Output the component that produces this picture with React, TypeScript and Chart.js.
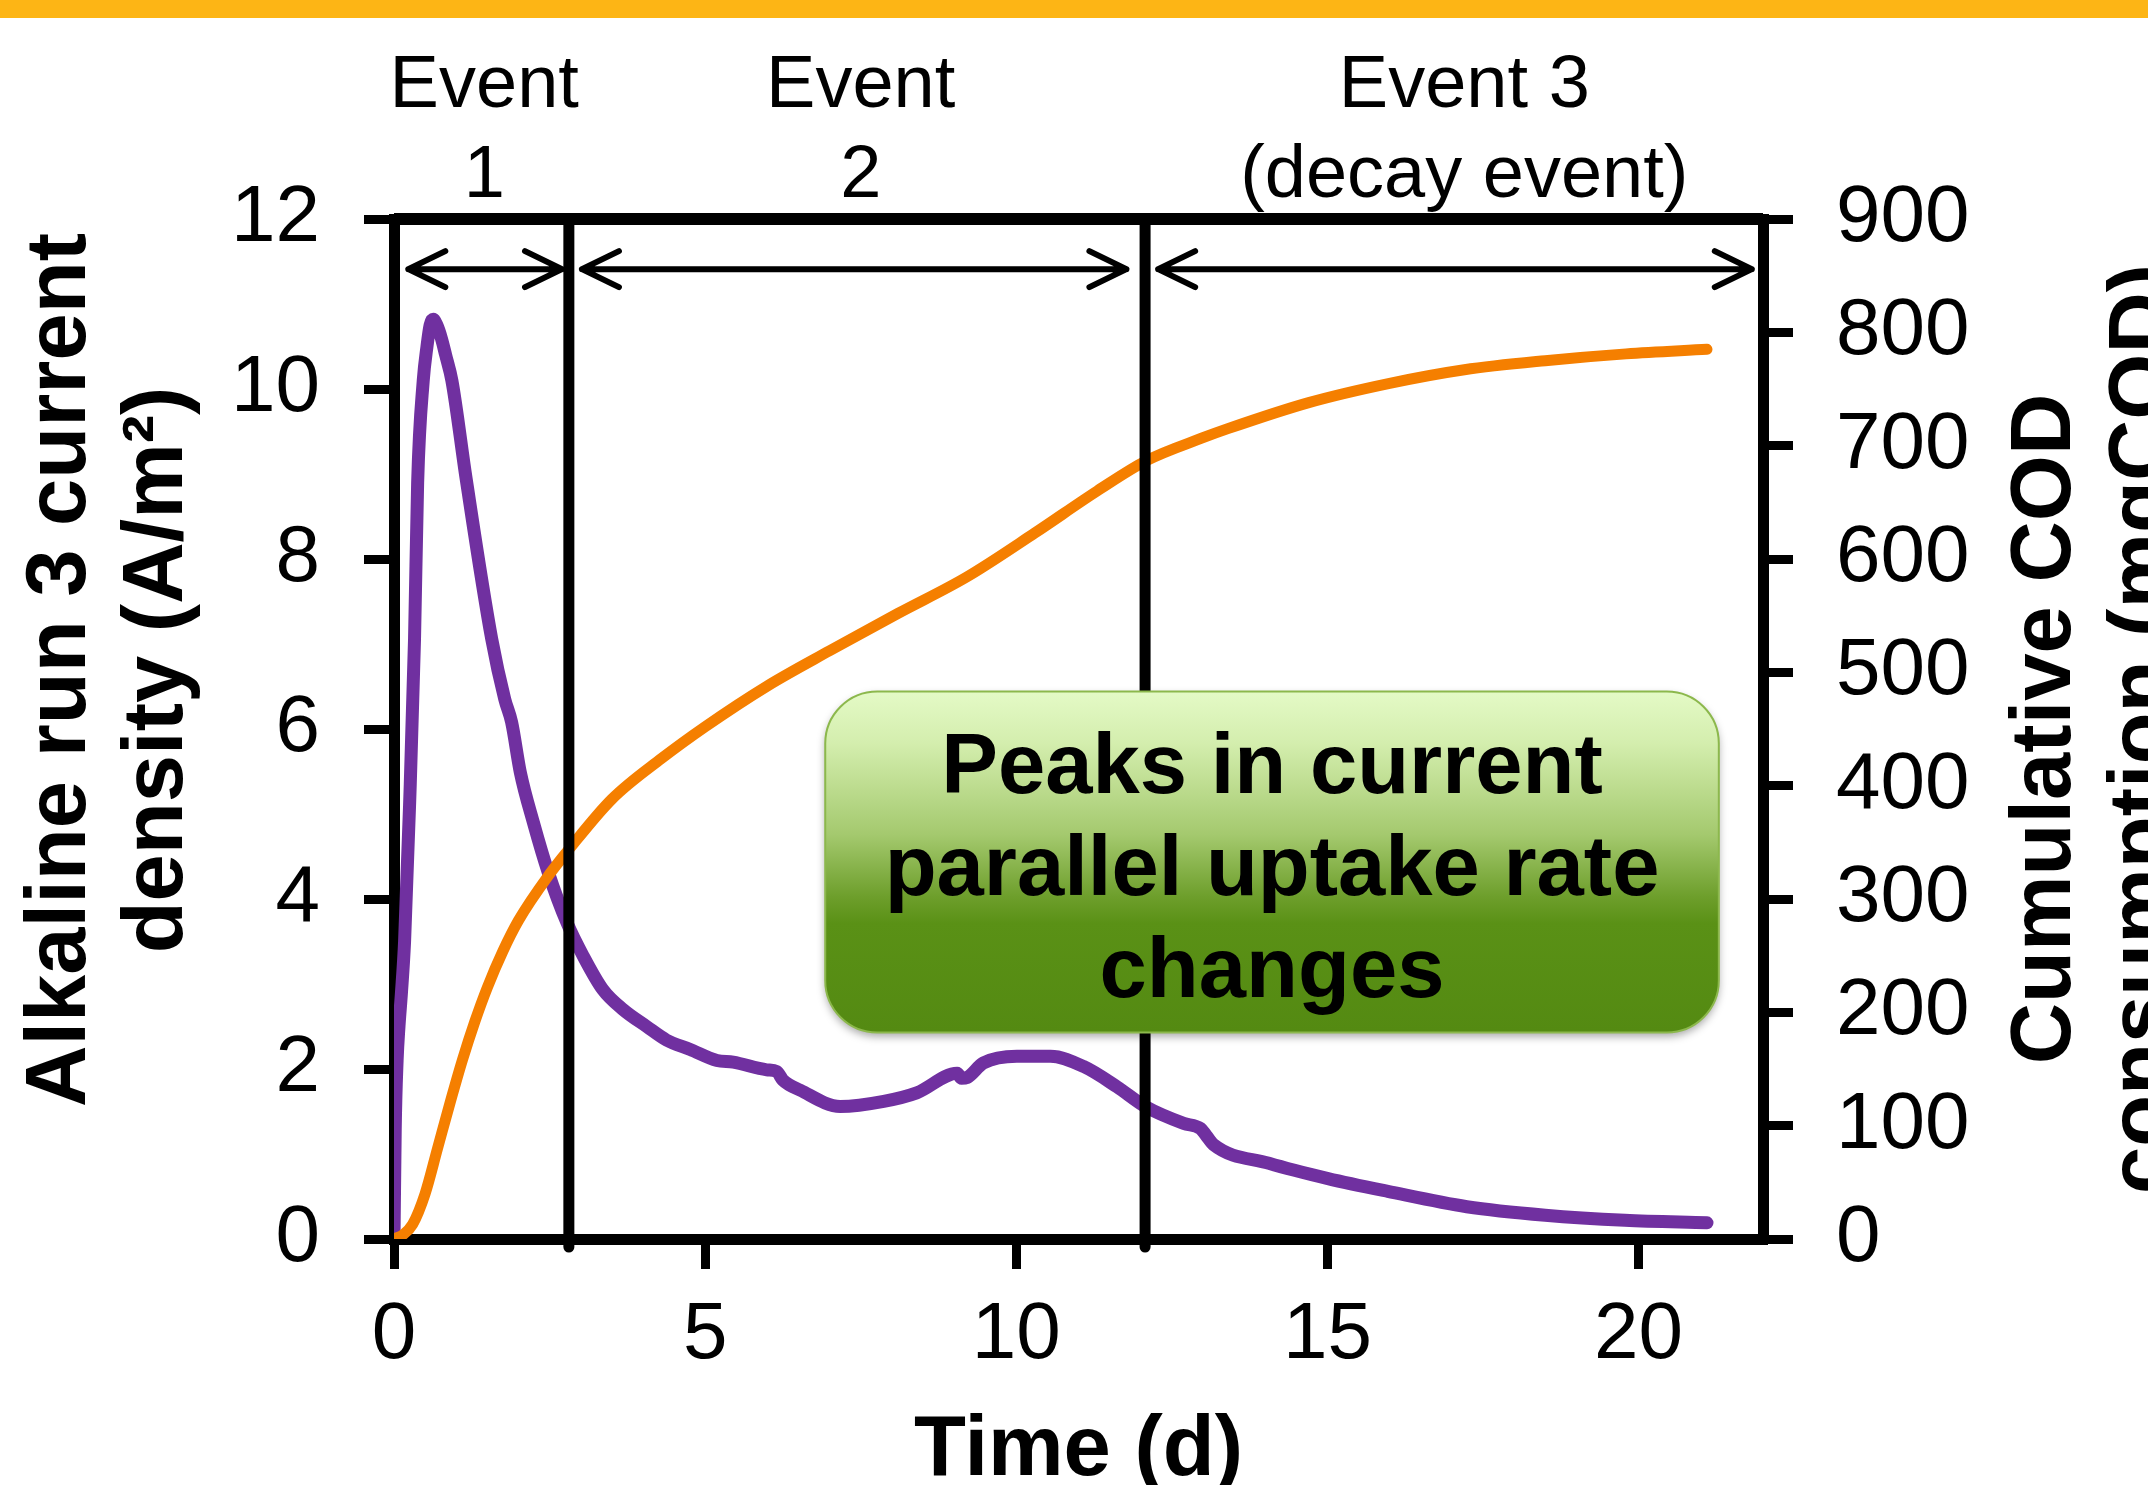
import { useEffect, useRef } from 'react';
import { Chart, registerables } from 'chart.js';

Chart.register(...registerables);

const FONT = "'Liberation Sans', Arial, Helvetica, sans-serif";

// Current density of alkaline run 3 (A/m²) against time (d)
const currentTime = [
  0, 0.02, 0.05, 0.08, 0.12, 0.17, 0.25, 0.33, 0.38, 0.47, 0.53, 0.58, 0.63, 0.69, 0.76, 0.83,
  0.93, 1.16, 1.57, 1.78, 1.89, 2.03, 2.24, 2.48, 2.78, 3.04, 3.36, 3.68, 4.06, 4.38, 4.76,
  5.19, 5.45, 5.99, 6.15, 6.25, 6.53, 7.17, 7.87, 8.4, 9.05, 9.12, 9.21, 9.47, 10.01, 10.55,
  11.08, 11.62, 12.07, 12.69, 12.96, 13.05, 13.17, 14.06, 15.01, 15.97, 17.24, 18.5, 19.78, 21.1,
];
const currentDensity = [
  0, 1.3, 2.1, 2.5, 2.9, 3.5, 5.1, 7.06, 8.9, 10.1, 10.5, 10.75, 10.82, 10.75, 10.6, 10.4,
  10.1, 8.94, 7.06, 6.35, 6.08, 5.49, 4.9, 4.31, 3.72, 3.33, 2.93, 2.7, 2.5, 2.34, 2.23,
  2.1, 2.08, 1.99, 1.97, 1.87, 1.75, 1.56, 1.62, 1.72, 1.95, 1.89, 1.9, 2.07, 2.15, 2.15,
  2.03, 1.79, 1.56, 1.36, 1.3, 1.22, 1.11, 0.89, 0.71, 0.56, 0.38, 0.28, 0.22, 0.19,
];

// Cumulative COD consumption (mgCOD) against time (d)
const codTime = [
  0, 0.15, 0.3, 0.5, 0.7, 0.9, 1.1, 1.3, 1.5, 1.75, 2.0, 2.5, 2.8, 3.5, 4.3, 5.0, 6.0, 7.0,
  8.1, 9.2, 10.3, 11.3, 12.1, 13.0, 13.4, 14.7, 16.0, 17.2, 18.5, 19.8, 21.1,
];
const cumulativeCOD = [
  0, 4, 13, 40, 80, 120, 158, 192, 222, 254, 281, 322, 343, 388, 424, 452, 488, 519,
  552, 584, 623, 660, 687, 707, 715, 738, 755, 767, 775, 781, 785,
];

// Event boundaries and arrow spans (d)
const eventBoundaries = [2.81, 12.07];
const eventArrowStarts = [0.23, 3.02, 12.28];
const eventArrowEnds = [2.7, 11.77, 21.82];
const eventLabelCenters = [1.45, 7.5, 17.2];
const eventLabelTop = ['Event', 'Event', 'Event 3'];
const eventLabelBottom = ['1', '2', '(decay event)'];
const arrowLevel = 11.41;

// Callout text
const calloutLines = ['Peaks in current', 'parallel uptake rate', 'changes'];
const calloutTimeRange = [6.93, 21.29];
const calloutDensityRange = [6.44, 2.43];

const leftTitle = ['Alkaline run 3 current', 'density (A/m²)'];
const rightTitle = ['Cumulative COD', 'consumption (mgCOD)'];
const bottomTitle = 'Time (d)';

const decorations = {
  id: 'decorations',
  beforeDraw(chart: any) {
    const { ctx, width } = chart;
    ctx.save();
    ctx.fillStyle = '#FDB515';
    ctx.fillRect(0, 0, width, 18);
    ctx.restore();
  },
  afterDraw(chart: any) {
    const { ctx, chartArea: area, scales } = chart;
    const xs = scales.x;
    const ys = scales.y;
    ctx.save();

    // top frame line
    ctx.strokeStyle = '#000';
    ctx.lineWidth = 12;
    ctx.lineCap = 'butt';
    ctx.beginPath();
    ctx.moveTo(area.left, area.top);
    ctx.lineTo(area.right, area.top);
    ctx.stroke();

    // event boundaries
    ctx.lineWidth = 11;
    ctx.lineCap = 'round';
    eventBoundaries.forEach((t) => {
      const px = xs.getPixelForValue(t);
      ctx.beginPath();
      ctx.moveTo(px, area.top);
      ctx.lineTo(px, area.bottom + 8);
      ctx.stroke();
    });

    // double-headed arrows
    const ay = ys.getPixelForValue(arrowLevel);
    ctx.lineWidth = 6;
    ctx.lineJoin = 'round';
    ctx.lineCap = 'round';
    eventArrowStarts.forEach((s, i) => {
      const x1 = xs.getPixelForValue(s);
      const x2 = xs.getPixelForValue(eventArrowEnds[i]);
      ctx.beginPath();
      ctx.moveTo(x1, ay);
      ctx.lineTo(x2, ay);
      ctx.moveTo(x1 + 37, ay - 18);
      ctx.lineTo(x1, ay);
      ctx.lineTo(x1 + 37, ay + 18);
      ctx.moveTo(x2 - 37, ay - 18);
      ctx.lineTo(x2, ay);
      ctx.lineTo(x2 - 37, ay + 18);
      ctx.stroke();
    });

    // event labels
    ctx.fillStyle = '#000';
    ctx.font = `74px ${FONT}`;
    ctx.textAlign = 'center';
    ctx.textBaseline = 'alphabetic';
    eventLabelCenters.forEach((t, i) => {
      const px = xs.getPixelForValue(t);
      ctx.fillText(eventLabelTop[i], px, area.top - 112);
      ctx.fillText(eventLabelBottom[i], px, area.top - 22);
    });

    // axis titles
    ctx.font = `bold 85px ${FONT}`;
    ctx.fillText(bottomTitle, (area.left + area.right) / 2, area.bottom + 236);

    const drawVertical = (text: string, x: number, y: number) => {
      ctx.save();
      ctx.translate(x, y);
      ctx.rotate(-Math.PI / 2);
      ctx.fillText(text, 0, 0);
      ctx.restore();
    };
    drawVertical(leftTitle[0], 85, 670);
    drawVertical(leftTitle[1], 182, 670);
    const midY = (area.top + area.bottom) / 2;
    drawVertical(rightTitle[0], area.right + 307, midY);
    drawVertical(rightTitle[1], area.right + 405, midY);

    // callout box
    const bx1 = xs.getPixelForValue(calloutTimeRange[0]);
    const bx2 = xs.getPixelForValue(calloutTimeRange[1]);
    const by1 = ys.getPixelForValue(calloutDensityRange[0]);
    const by2 = ys.getPixelForValue(calloutDensityRange[1]);
    const grad = ctx.createLinearGradient(0, by1, 0, by2);
    grad.addColorStop(0, '#E4FAC6');
    grad.addColorStop(0.15, '#D4EEAE');
    grad.addColorStop(0.42, '#A4C96E');
    grad.addColorStop(0.6, '#6E9F2C');
    grad.addColorStop(0.68, '#5A9116');
    grad.addColorStop(1, '#548A12');
    ctx.save();
    ctx.shadowColor = 'rgba(0,0,0,0.35)';
    ctx.shadowBlur = 8;
    ctx.shadowOffsetY = 4;
    ctx.beginPath();
    ctx.roundRect(bx1, by1, bx2 - bx1, by2 - by1, 52);
    ctx.fillStyle = grad;
    ctx.fill();
    ctx.restore();
    ctx.beginPath();
    ctx.roundRect(bx1, by1, bx2 - bx1, by2 - by1, 52);
    ctx.strokeStyle = '#8CB84C';
    ctx.lineWidth = 2;
    ctx.stroke();

    ctx.fillStyle = '#000';
    ctx.font = `bold 85px ${FONT}`;
    ctx.textAlign = 'center';
    const cx = (bx1 + bx2) / 2;
    calloutLines.forEach((line, i) => {
      ctx.fillText(line, cx, by1 + 101 + i * 102);
    });

    ctx.restore();
  },
};

export default function App() {
  const canvasRef = useRef<HTMLCanvasElement>(null);

  useEffect(() => {
    const canvas = canvasRef.current;
    if (!canvas) return;
    const tickFont = { family: FONT, size: 80 };
    const gridStyle = {
      display: true,
      drawOnChartArea: false,
      drawTicks: true,
      tickLength: 30,
      lineWidth: 9,
      color: '#000',
    };
    const borderStyle = { display: true, width: 11, color: '#000' };

    const chart = new Chart(canvas, {
      type: 'line',
      data: {
        datasets: [
          {
            label: 'Current density',
            data: currentTime.map((t, i) => ({ x: t, y: currentDensity[i] })),
            yAxisID: 'y',
            borderColor: '#7030A0',
            borderWidth: 13,
            pointRadius: 0,
            cubicInterpolationMode: 'monotone',
            borderCapStyle: 'round',
            borderJoinStyle: 'round',
            order: 2,
          },
          {
            label: 'Cumulative COD',
            data: codTime.map((t, i) => ({ x: t, y: cumulativeCOD[i] })),
            yAxisID: 'y1',
            borderColor: '#F57F00',
            borderWidth: 11,
            pointRadius: 0,
            cubicInterpolationMode: 'monotone',
            borderCapStyle: 'round',
            borderJoinStyle: 'round',
            order: 1,
          },
        ],
      },
      options: {
        animation: false,
        responsive: false,
        devicePixelRatio: 1,
        events: [],
        layout: { padding: { top: 219, left: 0, right: 0, bottom: 0 } },
        plugins: { legend: { display: false }, tooltip: { enabled: false } },
        scales: {
          x: {
            type: 'linear',
            position: 'bottom',
            min: 0,
            max: 22,
            ticks: {
              stepSize: 5,
              includeBounds: false,
              autoSkip: false,
              maxRotation: 0,
              padding: 19,
              color: '#000',
              font: tickFont,
            },
            grid: gridStyle,
            border: borderStyle,
            afterFit: (s: any) => {
              s.height = 246;
            },
          },
          y: {
            type: 'linear',
            position: 'left',
            min: 0,
            max: 12,
            ticks: { stepSize: 2, padding: 44, color: '#000', font: tickFont },
            grid: gridStyle,
            border: borderStyle,
            afterFit: (s: any) => {
              s.width = 394;
            },
          },
          y1: {
            type: 'linear',
            position: 'right',
            min: 0,
            max: 900,
            ticks: {
              stepSize: 100,
              padding: 43,
              color: '#000',
              font: tickFont,
              callback: (v: any) => String(v),
            },
            grid: gridStyle,
            border: borderStyle,
            afterFit: (s: any) => {
              s.width = 385;
            },
          },
        },
      },
      plugins: [decorations],
    } as any);

    return () => chart.destroy();
  }, []);

  return (
    <div style={{ position: 'absolute', left: 0, top: 0, width: 2148, height: 1485, background: '#fff' }}>
      <canvas ref={canvasRef} width={2148} height={1485} style={{ display: 'block' }} />
    </div>
  );
}
